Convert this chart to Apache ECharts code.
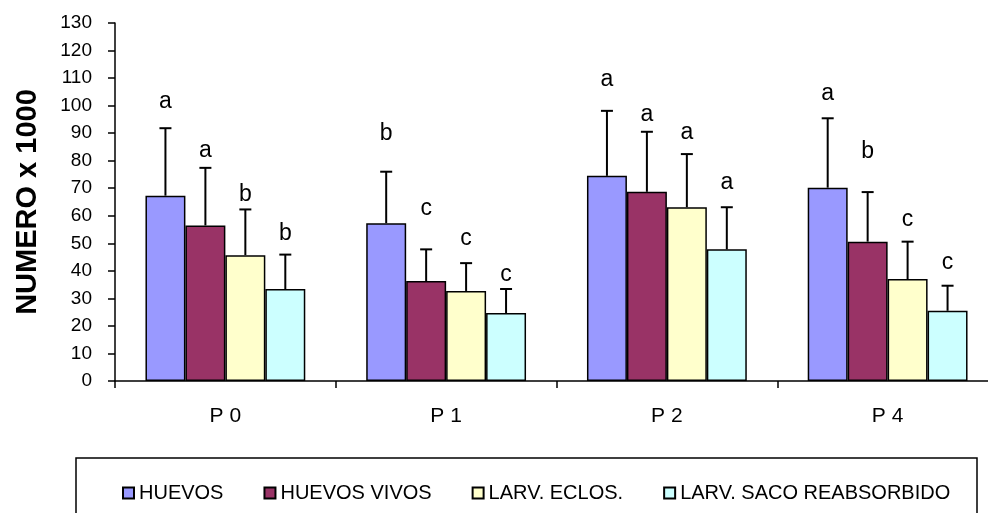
<!DOCTYPE html>
<html>
<head>
<meta charset="utf-8">
<script src="https://cdn.jsdelivr.net/npm/echarts@6/dist/echarts.min.js"></script>
<style>
    html, body { margin: 0; padding: 0; background: #fff; }
    #chart { width: 988px; height: 513px; }
</style>
</head>
<body>
<div id="chart"></div>
<script>
// categorias y series
const categories = ["P 0", "P 1", "P 2", "P 4"];
const seriesNames = ["HUEVOS", "HUEVOS VIVOS", "LARV. ECLOS.", "LARV. SACO REABSORBIDO"];
const colors = ["#9999FF", "#993366", "#FFFFCC", "#CCFFFF"];

// medias (x 1000)
const huevos = [67.3, 57.3, 74.5, 70.2];
const huevosVivos = [56.5, 36.3, 68.7, 50.6];
const larvEclos = [45.7, 32.7, 63.1, 37.0];
const larvSaco = [33.4, 24.7, 47.8, 25.5];

// desviacion (solo hacia arriba)
const sdHuevos = [24.5, 18.7, 23.6, 25.2];
const sdHuevosVivos = [20.9, 11.5, 21.8, 18.0];
const sdLarvEclos = [16.6, 10.1, 19.3, 13.6];
const sdLarvSaco = [12.5, 8.7, 15.3, 9.1];

// letras de significancia y su altura en el eje
const letHuevos = ["a", "b", "a", "a"];
const letHuevosVivos = ["a", "c", "a", "b"];
const letLarvEclos = ["b", "c", "a", "c"];
const letLarvSaco = ["b", "c", "a", "c"];
const letYHuevos = [101.4, 89.9, 109.3, 104.5];
const letYHuevosVivos = [83.5, 62.7, 96.6, 83.3];
const letYLarvEclos = [67.5, 51.8, 90.2, 58.7];
const letYLarvSaco = [53.4, 38.5, 72.1, 43.0];

const yTicks = { min: 0, max: 130, interval: 10 };

const means = [huevos, huevosVivos, larvEclos, larvSaco];
const sds = [sdHuevos, sdHuevosVivos, sdLarvEclos, sdLarvSaco];
const letters = [letHuevos, letHuevosVivos, letLarvEclos, letLarvSaco];
const letterY = [letYHuevos, letYHuevosVivos, letYLarvEclos, letYLarvSaco];

const CAT_GAP = 0.276;

/**
 * barra de error + letra para la serie k
 */
function makeErrorSeries(k) {
    return {
        type: "custom",
        silent: true,
        z: 5,
        data: categories.map((c, i) => [i, means[k][i], means[k][i] + sds[k][i], letterY[k][i], letters[k][i]]),
        encode: { x: 0, y: [1, 2] },
        renderItem: function (params, api) {
            const i = api.value(0);
            const catW = api.size([1, 0])[0];
            const barW = catW * (1 - CAT_GAP) / 4;
            const base = api.coord([i, api.value(1)]);
            const top = api.coord([i, api.value(2)]);
            const lab = api.coord([i, api.value(3)]);
            const x = base[0] + (k - 1.5) * barW;
            const st = { stroke: "#000", lineWidth: 2 };
            return {
                type: "group",
                children: [
                    { type: "line", shape: { x1: x, y1: base[1], x2: x, y2: top[1] }, style: st },
                    { type: "line", shape: { x1: x - 6, y1: top[1], x2: x + 6, y2: top[1] }, style: st },
                    {
                        type: "text",
                        style: {
                            x: x,
                            y: lab[1],
                            text: api.value(4),
                            fill: "#000",
                            font: "23px 'Liberation Sans', Arial, sans-serif",
                            textAlign: "center",
                            textVerticalAlign: "middle"
                        }
                    }
                ]
            };
        }
    };
}

const barSeries = seriesNames.map((name, k) => ({
    name: name,
    type: "bar",
    data: means[k],
    barGap: "0%",
    barCategoryGap: (CAT_GAP * 100) + "%",
    itemStyle: {
        color: colors[k],
        borderColor: "#000",
        borderWidth: 1.5
    }
}));

const chart = echarts.init(document.getElementById("chart"));
chart.setOption({
    animation: false,
    textStyle: { fontFamily: "'Liberation Sans', Arial, sans-serif", color: "#000" },
    grid: {
        left: 115,
        top: 23,
        width: 883,
        height: 358,
        outerBoundsMode: "none"
    },
    graphic: [
        {
            type: "rect",
            shape: { x: 76, y: 458, width: 901, height: 80 },
            style: { fill: "none", stroke: "#000", lineWidth: 1.5 },
            silent: true
        }
    ],
    legend: {
        left: 122,
        top: 483,
        padding: 0,
        itemGap: 40,
        itemWidth: 11,
        itemHeight: 11,
        icon: "rect",
        itemStyle: { borderColor: "#000", borderWidth: 2 },
        textStyle: { fontSize: 20, color: "#000", fontFamily: "'Liberation Sans', Arial, sans-serif" },
        data: seriesNames
    },
    xAxis: {
        type: "category",
        data: categories,
        axisLine: { lineStyle: { color: "#000", width: 1.5 } },
        axisTick: { show: true, length: 7, lineStyle: { color: "#000", width: 1.5 } },
        axisLabel: { fontSize: 21, color: "#000", margin: 25 },
        splitLine: { show: false }
    },
    yAxis: {
        type: "value",
        min: yTicks.min,
        max: yTicks.max,
        interval: yTicks.interval,
        name: "NUMERO x 1000",
        nameLocation: "middle",
        nameRotate: 90,
        nameGap: 73,
        nameTextStyle: { fontSize: 29, fontWeight: "bold", color: "#000" },
        axisLine: { show: true, lineStyle: { color: "#000", width: 1.5 } },
        axisTick: { show: true, length: 7, lineStyle: { color: "#000", width: 1.5 } },
        axisLabel: { fontSize: 19, color: "#000", margin: 23 },
        splitLine: { show: false }
    },
    series: barSeries.concat([0, 1, 2, 3].map(makeErrorSeries))
});
</script>
</body>
</html>
